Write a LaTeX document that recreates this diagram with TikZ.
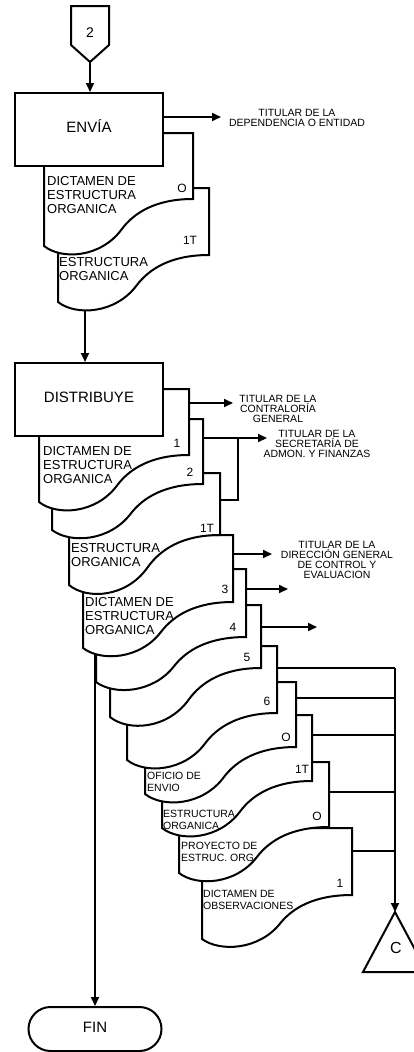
\documentclass[tikz,border=0pt]{standalone}
\usepackage{fontspec}
\setmainfont{Liberation Sans}
\usetikzlibrary{arrows.meta,backgrounds}
\newcommand{\docshape}[5]{%
  \pgfmathsetmacro\docW{#2-#1}%
  \pgfmathsetmacro\docH{#4-#5}%
  \draw[docline] (#1,#3) -- (#2,#3) -- (#2,#5)
    .. controls ({#1+0.75*\docW},{#5}) and ({#1+0.604*\docW},{#4-0.71*\docH}) .. ({#1+0.52*\docW},{#4-0.35*\docH})
    .. controls ({#1+0.38*\docW},{#4+0.25*\docH}) and ({#1+0.12*\docW},{#4+0.3*\docH}) .. (#1,#4) -- cycle;}
\begin{document}
\begin{tikzpicture}[x=1pt,y=-1pt,
  lw/.style={line width=2pt},
  docline/.style={lw, fill=white, line join=miter},
  arr/.style={lw, -{Triangle[length=9pt,width=8pt]}},
  procbox/.style={draw, lw, fill=white, inner sep=0pt, minimum width=148pt, minimum height=73pt, font=\fontsize{15}{18}\selectfont, text height=10.7pt, text depth=4pt},
  lbl/.style={anchor=north, align=center, inner sep=0pt, font=\fontsize{10.5}{10}\selectfont},
  dtext/.style={anchor=north west, align=left, inner sep=0pt, font=\fontsize{13}{14}\selectfont},
  stext/.style={anchor=north west, align=left, inner sep=0pt, font=\fontsize{10.5}{12.3}\selectfont},
  num/.style={anchor=base, inner sep=0pt, font=\fontsize{12}{14}\selectfont},
]
\useasboundingbox (0,0) rectangle (414,1052);
\clip (0,0) rectangle (414,1052);

% off-page connector 2
\draw[lw, fill=white] (71,6) -- (109,6) -- (109,45) -- (90,62) -- (71,45) -- cycle;
\node[anchor=base, inner sep=0pt, font=\fontsize{14}{16}\selectfont] (c2) at (90,37) {2};
\coordinate (c2tip) at (90,62);

% ENVIA documents
\docshape{58}{209}{188}{302}{255}
\docshape{44}{193}{133}{246}{199}
\node[procbox] (envia) at (89,129.5) {ENVÍA};

% DISTRIBUYE documents (back to front)
\docshape{202}{352}{828}{939}{895}
\docshape{179}{329}{762}{873}{827}
\docshape{162}{312}{715}{828}{781}
\docshape{145}{296}{682}{794}{747}
\docshape{127}{277}{646}{760}{713}
\docshape{110}{261}{605}{717}{668}
\docshape{96}{246}{569}{682}{637}
\docshape{83}{233}{535}{648}{602}
\docshape{69}{220}{473}{585}{535}
\docshape{52}{203}{419}{530}{484}
\docshape{39}{189}{389}{502}{455}
\node[procbox] (distrib) at (89,399.5) {DISTRIBUYE};

% texts in documents
\node[dtext] (tA) at (47,176.7) {DICTAMEN DE\\ESTRUCTURA\\ORGANICA};
\node[dtext] (tB) at (59,257.7) {ESTRUCTURA\\ORGANICA};
\node[dtext] (tC) at (43,446.7) {DICTAMEN DE\\ESTRUCTURA\\ORGANICA};
\node[dtext] (tD) at (71,543.7) {ESTRUCTURA\\ORGANICA};
\node[dtext] (tE) at (85,597.7) {DICTAMEN DE\\ESTRUCTURA\\ORGANICA};
\node[stext] (tF) at (147,771.5) {OFICIO DE\\ENVIO};
\node[stext] (tG) at (163,809.5) {ESTRUCTURA\\ORGANICA};
\node[stext] (tH) at (181,841.5) {PROYECTO DE\\ESTRUC. ORG};
\node[stext] (tI) at (203,889.5) {DICTAMEN DE\\OBSERVACIONES};

% copy numbers
\node[num] (nA) at (182,192) {O};
\node[num] (nB) at (190,244) {1T};
\node[num] (n1) at (177,447) {1};
\node[num] (n2) at (190,476) {2};
\node[num] (n3) at (207,532) {1T};
\node[num] (n4) at (225,593) {3};
\node[num] (n5) at (233,631) {4};
\node[num] (n6) at (247,661) {5};
\node[num] (n7) at (267,705) {6};
\node[num] (n8) at (286,741) {O};
\node[num] (n9) at (302,773) {1T};
\node[num] (n10) at (317,820) {O};
\node[num] (n11) at (340,887) {1};

% recipients
\node[lbl] (ldep) at (297,109.5) {TITULAR DE LA\\DEPENDENCIA O ENTIDAD};
\node[lbl] (lcon) at (278,395.5) {TITULAR DE LA\\CONTRALORÍA\\GENERAL};
\node[lbl] (lsec) at (317,430.5) {TITULAR DE LA\\SECRETARÍA DE\\ADMON. Y FINANZAS};
\node[lbl] (ldir) at (337,541.5) {TITULAR DE LA\\DIRECCIÓN GENERAL\\DE CONTROL Y\\EVALUACION};

% FIN
\node[draw, lw, fill=white, rounded corners=22pt, minimum width=133pt, minimum height=44pt, inner sep=0pt,
  font=\fontsize{15}{18}\selectfont, text height=10.7pt, text depth=4pt] (fin) at (95,1029) {FIN};

% connector C
\coordinate (capex) at (395,912);
\draw[lw, fill=white] (capex) -- (427,972) -- (363,972) -- cycle;
\node[anchor=base, inner sep=0pt, font=\fontsize{16}{18}\selectfont] (cC) at (396,953) {C};

% connection points
\coordinate (e1) at (85,295);
\coordinate (m1) at (95,645);
\coordinate (adep) at (221,117);
\coordinate (d1r) at (189,403);
\coordinate (acon) at (233,403);
\coordinate (d2r) at (203,438);
\coordinate (jn) at (238,438);
\coordinate (asec) at (267,438);
\coordinate (d3r) at (220,500);
\coordinate (d4r) at (233,554);
\coordinate (adir) at (272,554);
\coordinate (d5r) at (246,589);
\coordinate (a5) at (288,589);
\coordinate (d6r) at (261,627);
\coordinate (a6) at (317,627);
\coordinate (bus) at (395,668);
\coordinate (d7r) at (277,668);
\coordinate (d8r) at (296,698);
\coordinate (d9r) at (312,735);
\coordinate (d10r) at (329,792);
\coordinate (d11r) at (352,851);

\begin{scope}[on background layer]
\draw[arr] (c2tip) -- (envia.north -| c2tip);
\draw[arr] (envia.east |- adep) -- (adep);
\draw[arr] (e1) -- (e1 |- distrib.north);
\draw[arr] (d1r) -- (acon);
\draw[arr] (d2r) -- (asec);
\draw[lw] (d3r) -- (d3r -| jn) -- (jn);
\draw[arr] (d4r) -- (adir);
\draw[arr] (d5r) -- (a5);
\draw[arr] (d6r) -- (a6);
\draw[arr] (m1) -- (m1 |- fin.north);
\draw[lw] (d7r) -- (bus);
\draw[lw] (d8r) -- (d8r -| bus);
\draw[lw] (d9r) -- (d9r -| bus);
\draw[lw] (d10r) -- (d10r -| bus);
\draw[lw] (d11r) -- (d11r -| bus);
\draw[arr] (bus) -- (capex);
\end{scope}
\end{tikzpicture}
\end{document}
